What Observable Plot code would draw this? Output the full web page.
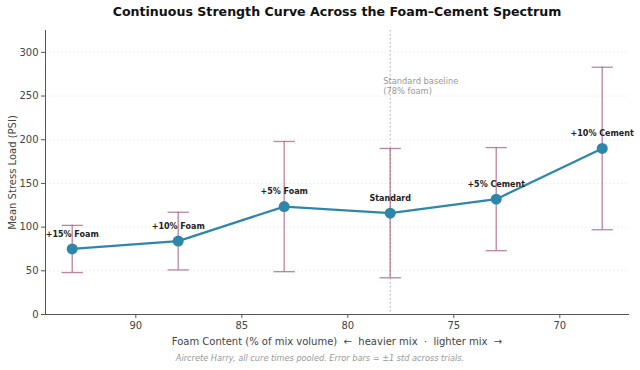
<!DOCTYPE html>
<html>
<head>
<meta charset="utf-8">
<script src="https://cdn.jsdelivr.net/npm/d3@7"></script>
<script src="https://cdn.jsdelivr.net/npm/@observablehq/plot@0.6"></script>
<style>
  body { margin: 0; background: #fff; font-family: "DejaVu Sans", sans-serif; }
  #wrap { width: 640px; height: 370px; overflow: hidden; }
  #title { height: 26px; line-height: 24px; font-size: 12.6px; font-weight: bold; color: #111; text-align: center; padding-left: 34px; box-sizing: border-box; width: 640px; }
  #caption { height: 22px; line-height: 20px; font-size: 8.2px; font-style: italic; color: #999; text-align: center; width: 640px; }
  svg { display: block; }
</style>
</head>
<body>
<div id="wrap">
  <div id="title">Continuous Strength Curve Across the Foam–Cement Spectrum</div>
  <div id="chart"></div>
  <div id="caption">Aircrete Harry, all cure times pooled. Error bars = ±1 std across trials.</div>
</div>
<script>
const labels = ["+15% Foam", "+10% Foam", "+5% Foam", "Standard", "+5% Cement", "+10% Cement"];
const foam = [93, 88, 83, 78, 73, 68];
const meanPSI = [75, 84, 123.5, 116, 132, 190];
const stdPSI = [27, 33, 74.5, 74, 59, 93];
const xTicks = [90, 85, 80, 75, 70];
const yTicks = [0, 50, 100, 150, 200, 250, 300];
const baselineFoam = 78;
const baselineNote = "Standard baseline\n(78% foam)";

const data = labels.map((l, i) => ({
  label: l, foam: foam[i], mean: meanPSI[i],
  lo: meanPSI[i] - stdPSI[i], hi: meanPSI[i] + stdPSI[i]
}));

const cap = {
  draw(ctx, size) {
    const w = Math.sqrt(size);
    ctx.moveTo(-w, 0);
    ctx.lineTo(w, 0);
  }
};

const lineColor = "#2e86ab";
const errColor = "#94436f";

const chart = Plot.plot({
  width: 640,
  height: 322,
  marginTop: 4,
  marginLeft: 45,
  marginRight: 12,
  marginBottom: 34,
  style: { fontFamily: "DejaVu Sans, sans-serif", fontSize: "10px", color: "#444", background: "#fff" },
  x: { domain: [94.26, 66.76], ticks: xTicks },
  y: { domain: [0, 325], ticks: yTicks },
  marks: [
    Plot.gridY(yTicks, { stroke: "#ddd", strokeOpacity: 0.6, strokeDasharray: "2,2", strokeWidth: 0.8 }),
    Plot.ruleX([baselineFoam], { stroke: "#aaa", strokeDasharray: "1.5,2.5", strokeWidth: 1 }),
    Plot.text([baselineNote], { x: baselineFoam, frameAnchor: "top", dy: 46, dx: -7, textAnchor: "start", fill: "#999", fontSize: 8.3, lineHeight: 1.2 }),
    Plot.frame({ anchor: "left", stroke: "#555" }),
    Plot.frame({ anchor: "bottom", stroke: "#555" }),
    Plot.axisX({ ticks: xTicks, tickSize: 4, tickPadding: 3, stroke: "#555", fill: "#444",
      label: "Foam Content (% of mix volume)  ←  heavier mix  ·  lighter mix  →", labelAnchor: "center", labelArrow: false, labelOffset: 30 }),
    Plot.axisY({ ticks: yTicks, tickSize: 4, tickPadding: 3, stroke: "#555", fill: "#444",
      label: "Mean Stress Load (PSI)", labelAnchor: "center", labelArrow: false, labelOffset: 37 }),
    Plot.ruleX(data, { x: "foam", y1: "lo", y2: "hi", stroke: errColor, strokeOpacity: 0.65, strokeWidth: 1.3 }),
    Plot.dot(data, { x: "foam", y: "lo", symbol: cap, r: 6, fill: "none", stroke: errColor, strokeOpacity: 0.65, strokeWidth: 1.3 }),
    Plot.dot(data, { x: "foam", y: "hi", symbol: cap, r: 6, fill: "none", stroke: errColor, strokeOpacity: 0.65, strokeWidth: 1.3 }),
    Plot.line(data, { x: "foam", y: "mean", stroke: lineColor, strokeWidth: 2.2 }),
    Plot.dot(data, { x: "foam", y: "mean", r: 5.5, fill: lineColor, stroke: "none" }),
    Plot.text(data, { x: "foam", y: "mean", text: "label", dy: -15, fontWeight: "bold", fontSize: 8, fill: "#222" })
  ]
});
document.getElementById("chart").appendChild(chart);
</script>
</body>
</html>
